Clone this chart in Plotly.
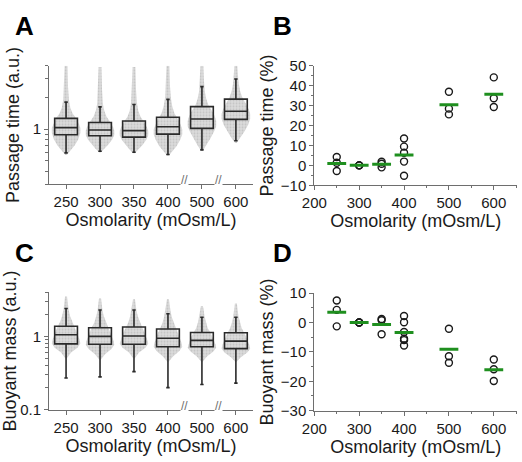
import math
import plotly.graph_objects as go

# ---------------- data ----------------
osm_labels = ["250", "300", "350", "400", "500", "600"]
osm_values = [250, 300, 350, 400, 500, 600]

# Panel A: passage time (a.u.) box statistics
pt_q1 = [0.885, 0.866, 0.842, 0.898, 1.02, 1.24]
pt_med = [1.035, 0.985, 0.97, 1.057, 1.25, 1.48]
pt_q3 = [1.267, 1.16, 1.196, 1.30, 1.64, 1.93]
pt_lo = [0.597, 0.618, 0.605, 0.575, 0.637, 0.778]
pt_hi = [1.81, 1.63, 1.72, 1.92, 2.54, 3.0]
# Panel A: cell cloud outline (levels, relative width)
pt_cloud_levels = [
    [0.57, 0.62, 0.70, 0.80, 0.92, 1.03, 1.13, 1.27, 1.42, 1.6, 1.9, 2.5, 4.0],
    [0.60, 0.65, 0.72, 0.80, 0.88, 0.97, 1.06, 1.18, 1.32, 1.5, 1.75, 2.4, 3.9],
    [0.59, 0.64, 0.71, 0.79, 0.87, 0.96, 1.05, 1.17, 1.32, 1.5, 1.8, 2.4, 3.9],
    [0.56, 0.61, 0.69, 0.79, 0.89, 1.0, 1.1, 1.25, 1.42, 1.65, 2.0, 2.6, 4.0],
    [0.62, 0.70, 0.82, 0.95, 1.07, 1.2, 1.33, 1.5, 1.7, 1.95, 2.3, 2.9, 4.0],
    [0.74, 0.82, 0.95, 1.1, 1.25, 1.4, 1.55, 1.75, 2.0, 2.3, 2.7, 3.3, 4.0],
]
pt_cloud_width = [0.05, 0.3, 0.6, 0.85, 1.0, 1.0, 0.9, 0.7, 0.45, 0.3, 0.2, 0.14, 0.1]

# Panel B: passage time change (%)
b_osm = [250, 250, 250, 300, 300, 300, 350, 350, 350, 400, 400, 400, 400, 400,
         500, 500, 500, 600, 600, 600]
b_pct = [4.2, 1.3, -2.8, 0, 0, 0, 1.8, 0.8, -1.0, 13.5, 9.4, 6.3, 1.9, -5.2,
         37, 28.5, 25.6, 44.2, 33.7, 29.3]
b_mean = [0.9, 0, 0.5, 5.2, 30.4, 35.7]

# Panel C: buoyant mass (a.u.) box statistics
bm_q1 = [0.79, 0.78, 0.78, 0.72, 0.72, 0.68]
bm_med = [1.05, 1.0, 1.01, 0.94, 0.88, 0.86]
bm_q3 = [1.37, 1.31, 1.34, 1.26, 1.13, 1.12]
bm_lo = [0.27, 0.28, 0.33, 0.2, 0.22, 0.23]
bm_hi = [2.4, 2.29, 2.29, 2.03, 1.82, 1.82]
bm_cloud_levels = [
    [0.5, 0.6, 0.7, 0.8, 0.9, 1.0, 1.15, 1.35, 1.6, 1.9, 2.3, 2.8, 3.5],
    [0.48, 0.57, 0.67, 0.77, 0.87, 0.97, 1.1, 1.3, 1.55, 1.85, 2.2, 2.7, 3.3],
    [0.5, 0.6, 0.7, 0.79, 0.88, 0.98, 1.12, 1.32, 1.55, 1.85, 2.2, 2.7, 3.2],
    [0.45, 0.53, 0.63, 0.72, 0.82, 0.92, 1.05, 1.25, 1.5, 1.8, 2.2, 2.7, 3.2],
    [0.45, 0.53, 0.62, 0.7, 0.78, 0.87, 0.98, 1.12, 1.3, 1.55, 1.9, 2.3, 2.6],
    [0.45, 0.52, 0.6, 0.68, 0.76, 0.85, 0.96, 1.1, 1.3, 1.55, 1.9, 2.3, 2.8],
]
bm_cloud_width = [0.05, 0.35, 0.8, 1.0, 0.95, 0.85, 0.75, 0.6, 0.4, 0.28, 0.18, 0.12, 0.07]

# Panel D: buoyant mass change (%)
d_osm = [250, 250, 250, 300, 300, 300, 350, 350, 350, 400, 400, 400, 400, 400, 400,
         500, 500, 500, 600, 600, 600]
d_pct = [7.5, 4.3, -1.3, 0, 0, 0, 1.2, 0.8, -4.0, 2.2, 0.1, -3.2, -5.5, -6.0, -7.8,
         -2.1, -11.5, -13.7, -12.6, -15.9, -19.9]
d_mean = [3.5, 0, -0.7, -3.4, -9.1, -16.1]

# ---------------- styling ----------------
FONT = "Liberation Sans, Arial, sans-serif"
AX = "#6e6e6e"
TXT = "#1a1a1a"
GREEN = "#1f8f1f"
W, H = 522, 462


def px_x(a, b):
    return [a / W, b / W]


def px_y(top, bottom):
    return [1 - bottom / H, 1 - top / H]


fig = go.Figure()

CLOUD_HALF = 0.42
BOX_W = 0.67


def add_box_panel(xa, ya, xo, yo, q1, med, q3, lo, hi, levels, widths):
    idx = list(range(len(osm_labels)))
    for i in idx:
        lv = levels[i]
        right = [i + w * CLOUD_HALF for w in widths]
        left = [i - w * CLOUD_HALF for w in widths]
        fig.add_trace(go.Scatter(
            x=right + left[::-1], y=lv + lv[::-1], mode="lines",
            fill="toself", fillcolor="#d6d6d6",
            fillpattern=dict(shape=".", fgcolor="#a8a8a8", bgcolor="#dcdcdc",
                             size=3, solidity=0.3),
            line=dict(width=0),
            xaxis=xa, yaxis=ya, hoverinfo="skip", showlegend=False))
    # boxes on an overlaying axis pair so they are drawn above the clouds
    fig.add_trace(go.Box(
        x=idx, q1=q1, median=med, q3=q3, lowerfence=lo, upperfence=hi,
        width=BOX_W, whiskerwidth=0.15, boxpoints=False,
        fillcolor="rgba(0,0,0,0)", line=dict(color="#2a2a2a", width=1.6),
        xaxis=xo, yaxis=yo, showlegend=False))


def add_pct_panel(xa, ya, xs, ys, means):
    fig.add_trace(go.Scatter(
        x=xs, y=ys, mode="markers",
        marker=dict(symbol="circle-open", size=7, color="#1a1a1a",
                    line=dict(width=1.4, color="#1a1a1a")),
        xaxis=xa, yaxis=ya, showlegend=False))
    half = 21
    for o, m in zip(osm_values, means):
        fig.add_trace(go.Scatter(
            x=[o - half, o + half], y=[m, m], mode="lines",
            line=dict(color=GREEN, width=3),
            xaxis=xa, yaxis=ya, showlegend=False))


add_box_panel("x", "y", "x5", "y5", pt_q1, pt_med, pt_q3, pt_lo, pt_hi,
              pt_cloud_levels, pt_cloud_width)
add_pct_panel("x2", "y2", b_osm, b_pct, b_mean)
add_box_panel("x3", "y3", "x6", "y6", bm_q1, bm_med, bm_q3, bm_lo, bm_hi,
              bm_cloud_levels, bm_cloud_width)
add_pct_panel("x4", "y4", d_osm, d_pct, d_mean)

tickfont = dict(family=FONT, size=15, color=TXT)
titlefont = dict(family=FONT, size=18, color=TXT)

common = dict(showline=True, linecolor=AX, linewidth=1, ticks="outside",
              tickcolor=AX, ticklen=4, showgrid=False, zeroline=False,
              tickfont=tickfont, mirror=False)

cat_x = dict(common, range=[-0.5, 5.5], tickmode="array",
             tickvals=list(range(6)), ticktext=osm_labels,
             title=dict(text="Osmolarity (mOsm/L)", font=titlefont, standoff=4))
num_x = dict(common, range=[200, 652], tickmode="linear", tick0=200, dtick=100,
             minor=dict(ticks="outside", ticklen=2, tickcolor=AX, dtick=50),
             title=dict(text="Osmolarity (mOsm/L)", font=titlefont, standoff=4))

A_RANGE = [math.log10(0.3), math.log10(4)]
C_RANGE = [-1, math.log10(4)]

fig.update_layout(
    width=W, height=H, margin=dict(l=0, r=0, t=0, b=0),
    paper_bgcolor="white", plot_bgcolor="white",
    font=dict(family=FONT, color=TXT),
    xaxis=dict(cat_x, domain=px_x(37, 246), anchor="y"),
    yaxis=dict(common, type="log", domain=px_y(59, 182), anchor="x",
               range=A_RANGE,
               tickmode="array", tickvals=[1], ticktext=["1"],
               minor=dict(ticks="outside", ticklen=3, tickcolor=AX,
                          tickvals=[0.3, 0.4, 0.5, 0.6, 0.7, 0.8, 0.9, 2, 3, 4]),
               title=dict(text="Passage time (a.u.)", font=titlefont, standoff=8)),
    xaxis5=dict(overlaying="x", anchor="y5", range=[-0.5, 5.5], visible=False),
    yaxis5=dict(overlaying="y", anchor="x5", type="log", range=A_RANGE, visible=False),
    xaxis2=dict(num_x, domain=px_x(309, 517), anchor="y2"),
    yaxis2=dict(common, domain=px_y(59, 183), anchor="x2", range=[-10, 50],
                tickmode="linear", tick0=-10, dtick=10,
                minor=dict(ticks="outside", ticklen=2, tickcolor=AX, dtick=5),
                title=dict(text="Passage time (%)", font=titlefont, standoff=2)),
    xaxis3=dict(cat_x, domain=px_x(37, 246), anchor="y3"),
    yaxis3=dict(common, type="log", domain=px_y(294, 416), anchor="x3",
                range=C_RANGE,
                tickmode="array", tickvals=[0.1, 1], ticktext=["0.1", "1"],
                minor=dict(ticks="outside", ticklen=3, tickcolor=AX,
                           tickvals=[0.2, 0.3, 0.4, 0.5, 0.6, 0.7, 0.8, 0.9, 2, 3, 4]),
                title=dict(text="Buoyant mass (a.u.)", font=titlefont, standoff=2)),
    xaxis6=dict(overlaying="x3", anchor="y6", range=[-0.5, 5.5], visible=False),
    yaxis6=dict(overlaying="y3", anchor="x6", type="log", range=C_RANGE, visible=False),
    xaxis4=dict(num_x, domain=px_x(309, 517), anchor="y4"),
    yaxis4=dict(common, domain=px_y(295, 417), anchor="x4", range=[-30, 10],
                tickmode="linear", tick0=-30, dtick=10,
                minor=dict(ticks="outside", ticklen=2, tickcolor=AX, dtick=5),
                title=dict(text="Buoyant mass (%)", font=titlefont, standoff=2)),
)

# axis break marks
for xa, ya in (("x", "y"), ("x3", "y3")):
    for bx in (3.5, 4.5):
        fig.add_annotation(x=bx, y=0, xref=xa, yref=ya + " domain", text="//",
                           showarrow=False, font=dict(family=FONT, size=12, color=AX),
                           bgcolor="white", borderpad=0, yshift=-4)

# panel letters
for letter, lx, ly in (("A", 0, 0), ("B", 265, 0), ("C", 0, 236), ("D", 265, 236)):
    fig.add_annotation(x=lx / W, y=1 - ly / H, xref="paper", yref="paper",
                       xanchor="left", yanchor="top", text="<b>%s</b>" % letter,
                       showarrow=False, font=dict(family=FONT, size=26, color="black"))

fig.write_html("out.html")
